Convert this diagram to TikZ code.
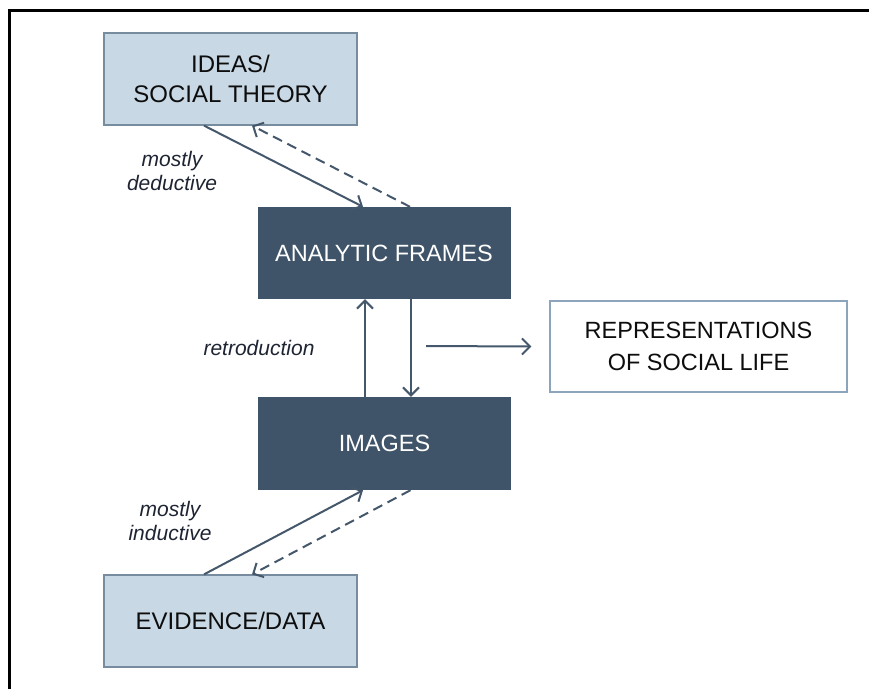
\documentclass[tikz,border=0pt]{standalone}
\usepackage{fontspec}
\setmainfont{Liberation Sans}
\usetikzlibrary{arrows.meta}
\definecolor{lightbox}{RGB}{200,216,228}
\definecolor{lightedge}{RGB}{120,140,160}
\definecolor{darkbox}{RGB}{63,84,104}
\definecolor{arrowc}{RGB}{68,87,107}
\definecolor{repedge}{RGB}{140,165,188}
\definecolor{labelc}{RGB}{30,36,50}
\tikzset{
  lightnode/.style={draw=lightedge, line width=1.2pt, fill=lightbox, minimum width=253pt, minimum height=92pt, inner sep=0pt, align=center, text=black!95, font=\fontsize{24}{30}\selectfont},
  darknode/.style={draw=none, fill=darkbox, minimum width=253pt, minimum height=92pt, inner sep=0pt, align=center, text=white, font=\fontsize{23.5}{30}\selectfont},
  repnode/.style={draw=repedge, line width=1.2pt, fill=white, minimum width=297pt, minimum height=91pt, inner sep=0pt, align=center, text=black!95, font=\fontsize{23.5}{32}\selectfont},
  conn/.style={draw=arrowc, line width=2pt, -{Straight Barb[length=8pt,width=16pt,line width=2pt]}},
  dconn/.style={conn, dash pattern=on 10pt off 6pt},
  lbl/.style={text=labelc, align=center, font=\fontsize{21}{24}\selectfont\itshape, inner sep=0pt}
}
\begin{document}
\begin{tikzpicture}[x=1pt,y=-1pt]
\useasboundingbox (0,0) rectangle (869,688);
\begin{scope}
\clip (0,0) rectangle (869,688);
\draw[line width=3pt, black] (9.5,700) -- (9.5,10.5) -- (880,10.5);
\end{scope}
\node[lightnode] (ideas) at (230.5,79) {IDEAS/\\SOCIAL THEORY};
\node[darknode] (af) at (384,253) {ANALYTIC FRAMES};
\node[darknode, minimum height=93pt] (img) at (384.5,443.5) {IMAGES};
\node[lightnode] (evid) at (230.5,621) {EVIDENCE/DATA};
\node[repnode] (rep) at (698.5,346.5) {REPRESENTATIONS\\OF SOCIAL LIFE};
\coordinate (rstart) at (426,346);
\draw[conn] ([xshift=-26.5pt]ideas.south) -- ([xshift=-21pt]af.north);
\draw[dconn] ([xshift=26pt]af.north) -- ([xshift=21.5pt]ideas.south);
\draw[conn] ([xshift=-19.5pt]img.north) -- ([xshift=-19pt]af.south);
\draw[conn] ([xshift=27pt]af.south) -- ([xshift=26.5pt]img.north);
\draw[conn] (rstart) -- ([xshift=-18pt]rep.west);
\draw[conn] ([xshift=-26.5pt]evid.north) -- ([xshift=-21.5pt]img.south);
\draw[dconn] ([xshift=26pt]img.south) -- ([xshift=21.5pt]evid.north);
\node[lbl] (lded) at (172,171) {mostly\\deductive};
\node[lbl] (lretro) at (259,348) {retroduction};
\node[lbl] (lind) at (170,521) {mostly\\inductive};
\end{tikzpicture}
\end{document}
